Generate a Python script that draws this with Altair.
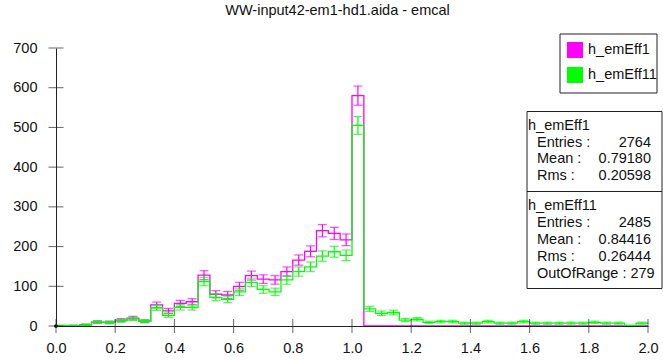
import altair as alt
import pandas as pd
import numpy as np

# ---- data ----
x_min, x_max, n_bins = 0.0, 2.0, 50
h_emEff1 = [0, 1, 3, 10, 9, 15, 20, 12, 53, 38, 57, 61, 128, 80, 78, 100, 127, 118, 116, 137,
            166, 188, 240, 233, 217, 580, 0, 0, 0, 0, 0, 0, 0, 0, 0, 0, 0, 0, 0, 0,
            0, 0, 0, 0, 0, 0, 0, 0, 0, 0]
h_emEff11 = [1, 1, 3, 10, 9, 13, 18, 12, 46, 27, 47, 47, 112, 72, 67, 86, 110, 92, 86, 116,
             137, 149, 176, 187, 178, 505, 43, 32, 34, 15, 17, 9, 11, 11, 7, 7, 11, 7, 7, 11,
             7, 7, 7, 7, 7, 9, 7, 7, 1, 7]
series_names = ["h_emEff1", "h_emEff11"]
series_colors = ["#ff00ff", "#00ff00"]
x_ticks = [0.0, 0.2, 0.4, 0.6, 0.8, 1.0, 1.2, 1.4, 1.6, 1.8, 2.0]
y_ticks = [0, 100, 200, 300, 400, 500, 600, 700]
title_text = "WW-input42-em1-hd1.aida - emcal"
stats1 = [("Entries :", "2764"), ("Mean :", "0.79180"), ("Rms :", "0.20598")]
stats11 = [("Entries :", "2485"), ("Mean :", "0.84416"), ("Rms :", "0.26444")]
out_of_range = "OutOfRange : 279"

W, H = 592, 278
FONT = "Liberation Sans"
FS = 14.5

bw = (x_max - x_min) / n_bins
edges = [x_min + i * bw for i in range(n_bins + 1)]

def step_df(vals):
    return pd.DataFrame({"x": edges[:], "y": list(vals) + [vals[-1]]})

def err_df(vals):
    rows = []
    for i, v in enumerate(vals):
        if v > 0:
            e = np.sqrt(v)
            rows.append({"x": edges[i] + bw / 2, "y": max(v - e, 0), "hi": v + e})
    return pd.DataFrame(rows)

xs = alt.Scale(domain=[x_min, x_max], nice=False, zero=False)
ys = alt.Scale(domain=[0, 700], nice=False)
xaxis = alt.Axis(values=x_ticks, format=".1f", ticks=False, grid=False, domainColor="#222",
                 labelFontSize=FS, labelFont=FONT, labelColor="#111", labelPadding=15,
                 title=None, labelFlush=False, zindex=1)
yaxis = alt.Axis(values=y_ticks, ticks=False, grid=False, domainColor="#222",
                 labelFontSize=FS, labelFont=FONT, labelColor="#111", labelPadding=19,
                 title=None, zindex=1)
X = lambda f: alt.X(f, scale=xs, axis=xaxis)
Y = lambda f: alt.Y(f, scale=ys, axis=yaxis)

layers = []
for k, vals in enumerate([h_emEff1, h_emEff11]):
    col = series_colors[k]
    line = alt.Chart(step_df(vals)).mark_line(
        interpolate="step-after", color=col, strokeWidth=1.3).encode(x=X("x:Q"), y=Y("y:Q"))
    ed = err_df(vals)
    rule = alt.Chart(ed).mark_rule(color=col, strokeWidth=1.2).encode(
        x=X("x:Q"), y=Y("y:Q"), y2="hi:Q")
    cap_lo = alt.Chart(ed).mark_tick(color=col, orient="horizontal", size=9, thickness=1.2).encode(
        x=X("x:Q"), y=Y("y:Q"))
    cap_hi = alt.Chart(ed).mark_tick(color=col, orient="horizontal", size=9, thickness=1.2).encode(
        x=X("x:Q"), y=Y("hi:Q"))
    layers += [line, rule, cap_lo, cap_hi]

# crossing tick marks
ytk = alt.Chart(pd.DataFrame({"y": y_ticks})).mark_tick(
    orient="horizontal", size=15, thickness=1, color="#222").encode(y=Y("y:Q"), x=alt.value(0))
xtk = alt.Chart(pd.DataFrame({"x": x_ticks})).mark_tick(
    orient="vertical", size=14, thickness=1, color="#222").encode(x=X("x:Q"), y=alt.value(H))
origin = alt.Chart(pd.DataFrame({"x": [0.0], "y": [0]})).mark_circle(
    size=14, color="#000", opacity=1).encode(x=X("x:Q"), y=Y("y:Q"))
layers += [ytk, xtk, origin]

# title
title = alt.Chart(pd.DataFrame({"t": [title_text]})).mark_text(
    font=FONT, fontSize=FS, color="#111", align="center", baseline="middle").encode(
    text="t:N", x=alt.value(281.5), y=alt.value(-37))
layers.append(title)

# legend box
leg_box = alt.Chart(pd.DataFrame({"a": [0]})).mark_rect(
    fill="white", stroke="#222", strokeWidth=1).encode(
    x=alt.value(504), x2=alt.value(601), y=alt.value(-14), y2=alt.value(45))
leg_df = pd.DataFrame({"name": series_names, "col": series_colors, "yc": [2, 27]})
leg_sw = alt.Chart(leg_df).transform_calculate(
    ya="datum.yc - 8", yb="datum.yc + 8").mark_rect().encode(
    x=alt.value(511), x2=alt.value(527), y=alt.Y("ya:Q", scale=None), y2="yb:Q",
    color=alt.Color("col:N", scale=None, legend=None))
leg_tx = alt.Chart(leg_df).mark_text(font=FONT, fontSize=FS, align="left", baseline="middle", color="#111").encode(
    x=alt.value(532), y=alt.Y("yc:Q", scale=None), text="name:N")
layers += [leg_box, leg_sw, leg_tx]

# stats box
stat_box = alt.Chart(pd.DataFrame({"a": [0]})).mark_rect(
    fill="white", stroke="#222", strokeWidth=1).encode(
    x=alt.value(471), x2=alt.value(606), y=alt.value(63.5), y2=alt.value(240.5))
divider = alt.Chart(pd.DataFrame({"a": [0]})).mark_rule(color="#222", strokeWidth=1).encode(
    x=alt.value(471), x2=alt.value(606), y=alt.value(143.5))
names_df = pd.DataFrame({"t": series_names, "yy": [78, 158]})
names_tx = alt.Chart(names_df).mark_text(font=FONT, fontSize=FS, align="left", baseline="middle", color="#111").encode(
    x=alt.value(472), y=alt.Y("yy:Q", scale=None), text="t:N")
lab_rows = [s[0] for s in stats1] + [s[0] for s in stats11] + [out_of_range]
val_rows = [s[1] for s in stats1] + [s[1] for s in stats11] + [""]
row_y = [94.5, 111.3, 128, 175.3, 192, 208.7, 226]
stats_df = pd.DataFrame({"lab": lab_rows, "val": val_rows, "yy": row_y})
lab_tx = alt.Chart(stats_df).mark_text(font=FONT, fontSize=FS, align="left", baseline="middle", color="#111").encode(
    x=alt.value(481), y=alt.Y("yy:Q", scale=None), text="lab:N")
val_tx = alt.Chart(stats_df).mark_text(font=FONT, fontSize=FS, align="right", baseline="middle", color="#111").encode(
    x=alt.value(595), y=alt.Y("yy:Q", scale=None), text="val:N")
layers += [stat_box, divider, names_tx, lab_tx, val_tx]

chart = alt.layer(*layers).properties(
    width=W, height=H,
    autosize=alt.AutoSizeParams(type="none"),
    padding={"left": 56, "top": 48, "right": 15, "bottom": 35},
    background="white",
).configure_view(stroke=None)

chart.save("out.html", embed_options={"renderer": "svg", "actions": False})
